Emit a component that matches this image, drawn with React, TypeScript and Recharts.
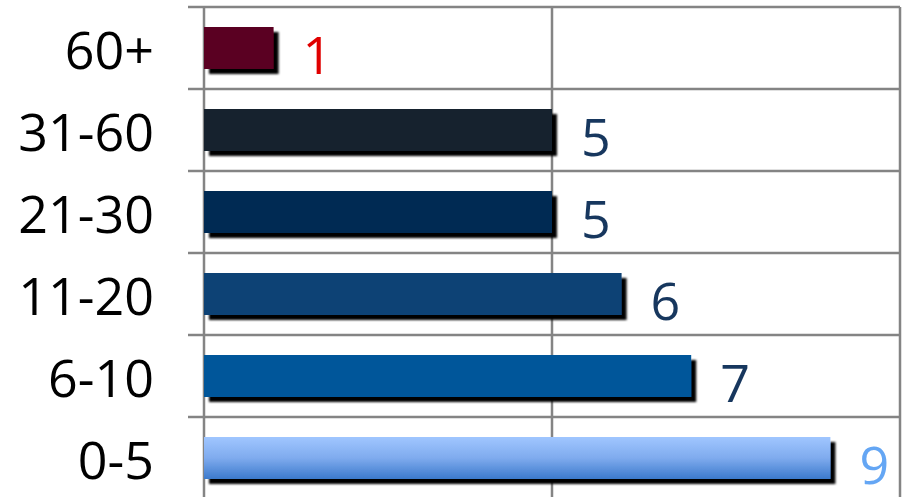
import React from "react";
import { BarChart, Bar, XAxis, YAxis, CartesianGrid, Cell, LabelList } from "recharts";

const categories = ["60+", "31-60", "21-30", "11-20", "6-10", "0-5"];
const values = [1, 5, 5, 6, 7, 9];
const barColors = ["#5a0021", "#13212f", "#002a52", "#0e4275", "#02579a", "url(#lightBlueGrad)"];
const labelColors = ["#e00000", "#17375e", "#17375e", "#17375e", "#17375e", "#64a6f4"];
const xTicks = [0, 5, 10];

const data = categories.map((name, i) => ({ name, value: values[i], idx: i }));

const W = 903;
const H = 500;
const LEFT = 204;
const TOP = 7;
const BOTTOM_M = 1;
const RIGHT_M = 3;
const BAND = (H - TOP - BOTTOM_M) / categories.length;
const GRID = "#848484";
const FONT = "'Open Sans', sans-serif";

const CatTick = (props: any) => {
  const { y, payload } = props;
  return (
    <g>
      <line x1={LEFT - 16} x2={LEFT} y1={y - BAND / 2} y2={y - BAND / 2} stroke={GRID} strokeWidth={2.5} />
      <text x={154} y={y} textAnchor="end" dominantBaseline="central" fontFamily={FONT} fontSize={52} fill="#000">
        {payload.value}
      </text>
    </g>
  );
};

const ValueLabel = (props: any) => {
  const { x, y, width, height, value, index } = props;
  return (
    <text
      x={x + width + 29}
      y={y + height / 2 + 5}
      dominantBaseline="central"
      fontFamily={FONT}
      fontSize={52}
      fill={labelColors[index]}
    >
      {value}
    </text>
  );
};

export default function App() {
  return (
    <div style={{ position: "absolute", left: 0, top: 0, width: W, height: 497, overflow: "hidden", background: "#fff" }}>
      <svg width={0} height={0} style={{ position: "absolute" }}>
        <defs>
          <linearGradient id="lightBlueGrad" x1="0" y1="0" x2="0" y2="1">
            <stop offset="0%" stopColor="#a0c6ff" />
            <stop offset="50%" stopColor="#7fabee" />
            <stop offset="100%" stopColor="#3c7acc" />
          </linearGradient>
          <filter id="barShadow" x="-10%" y="-20%" width="130%" height="160%">
            <feDropShadow dx={5} dy={5} stdDeviation={1.3} floodColor="#000" floodOpacity={1} />
          </filter>
        </defs>
      </svg>
      <BarChart
        width={W}
        height={H}
        data={data}
        layout="vertical"
        margin={{ top: TOP, right: RIGHT_M, bottom: BOTTOM_M, left: 0 }}
        barSize={42}
      >
        <CartesianGrid
          stroke={GRID}
          strokeWidth={2.5}
          horizontal={{ stroke: GRID, strokeWidth: 2.5 } as any}
          vertical={{ stroke: GRID, strokeWidth: 2.5 } as any}
          horizontalCoordinatesGenerator={({ offset }: any) =>
            categories.map((_, i) => offset.top + (i * offset.height) / categories.length).concat([offset.top + offset.height])
          }
          verticalCoordinatesGenerator={({ offset }: any) =>
            xTicks.map((t) => offset.left + (t / xTicks[xTicks.length - 1]) * offset.width)
          }
        />
        <XAxis type="number" domain={[0, 10]} ticks={xTicks} hide />
        <YAxis
          type="category"
          dataKey="name"
          width={LEFT}
          axisLine={false}
          tickLine={false}
          tick={<CatTick />}
          interval={0}
        />
        <Bar dataKey="value" isAnimationActive={false}>
          {data.map((d, i) => (
            <Cell key={d.name} fill={barColors[i]} filter="url(#barShadow)" />
          ))}
          <LabelList dataKey="value" content={<ValueLabel />} />
        </Bar>
      </BarChart>
    </div>
  );
}
